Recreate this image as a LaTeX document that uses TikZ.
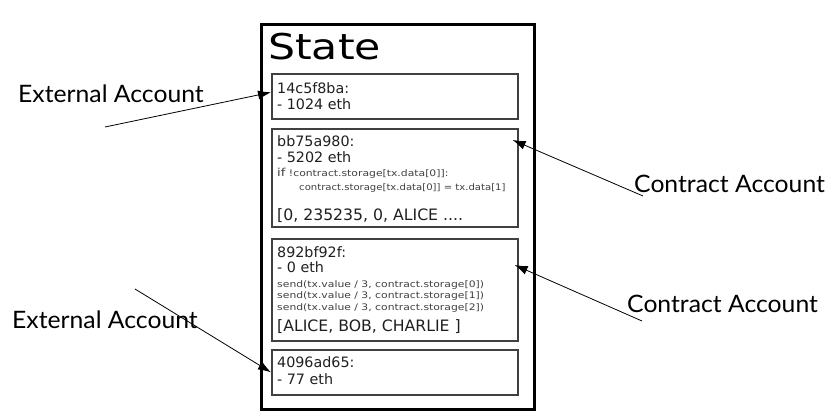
\documentclass[tikz,border=0pt]{standalone}
\usepackage{fontspec}
\setmainfont{DejaVu Sans}
\newfontfamily\labelfont{Lato}
\usetikzlibrary{arrows.meta}
\usetikzlibrary{positioning}
\usetikzlibrary{calc}

\newcommand{\idfont}{\fontsize{14.3}{16}\selectfont}
\newcommand{\datafont}{\fontsize{15.7}{18}\selectfont}
\newcommand{\codefont}{\fontsize{9}{10}\selectfont}

\tikzset{
	acct/.style={draw=black!75, line width=1.6pt, anchor=north west, inner sep=0pt, minimum width=246},
	txt/.style={anchor=base west, inner sep=0pt, text=black!88},
	code/.style={txt, text=black!75, font=\codefont},
	codewide/.style={code, xscale=1.2},
	tag/.style={anchor=base west, inner sep=0pt, font=\labelfont\fontsize{24}{27}\selectfont, xscale=1.03},
	pointer/.style={-{Latex[length=13pt, width=9pt]}, line width=0.8pt}
}

\begin{document}
\begin{tikzpicture}[x=1pt, y=1pt]
	\useasboundingbox (0, 0) rectangle (830, -411);

	% state container
	\node[draw=black, line width=2.6pt, anchor=north west, inner sep=0pt, minimum width=273, minimum height=385] (state) at (260, -23) {};
	\node[txt, text=black, font=\fontsize{35.5}{40}\selectfont, xscale=1.2] (title) at (268, -60) {State};

	% accounts
	\node[acct, minimum height=45] (acc1) at (271, -73) {};
	\node[acct, minimum height=98] (acc2) at (271, -128) {};
	\node[acct, minimum height=102] (acc3) at (271, -238) {};
	\node[acct, minimum height=45] (acc4) at (271, -349) {};

	\node[txt, font=\idfont] (id1) at ($(acc1.north west)+(6, -20.5)$) {14c5f8ba:};
	\node[txt, font=\idfont] (bal1) at ($(acc1.north west)+(6, -37)$) {- 1024 eth};

	\node[txt, font=\idfont] (id2) at ($(acc2.north west)+(6, -18.5)$) {bb75a980:};
	\node[txt, font=\idfont] (bal2) at ($(acc2.north west)+(6, -35)$) {- 5202 eth};
	\node[codewide] (cond2) at ($(acc2.north west)+(6, -49)$) {{\fontsize{11}{12}\selectfont if} !contract.storage[tx.data[0]]:};
	\node[code, xscale=1.12] (stmt2) at ($(acc2.north west)+(28, -63)$) {contract.storage[tx.data[0]] = tx.data[1]};
	\node[txt, font=\datafont] (mem2) at ($(acc2.north west)+(6, -92.5)$) {[0, 235235, 0, ALICE ....};

	\node[txt, font=\idfont] (id3) at ($(acc3.north west)+(6, -19.7)$) {892bf92f:};
	\node[txt, font=\idfont] (bal3) at ($(acc3.north west)+(6, -34.3)$) {- 0 eth};
	\node[codewide] (send0) at ($(acc3.north west)+(6, -49.3)$) {send(tx.value / 3, contract.storage[0])};
	\node[codewide] (send1) at ($(acc3.north west)+(6, -61)$) {send(tx.value / 3, contract.storage[1])};
	\node[codewide] (send2) at ($(acc3.north west)+(6, -72.5)$) {send(tx.value / 3, contract.storage[2])};
	\node[txt, font=\datafont] (mem3) at ($(acc3.north west)+(6, -93.7)$) {[ALICE, BOB, CHARLIE ]};

	\node[txt, font=\idfont] (id4) at ($(acc4.north west)+(6, -19)$) {4096ad65:};
	\node[txt, font=\idfont] (bal4) at ($(acc4.north west)+(6, -36)$) {- 77 eth};

	% labels
	\node[tag] (ext1) at (18, -103) {External Account};
	\node[tag] (ext2) at (12, -329) {External Account};
	\node[tag] (con1) at (634, -193) {Contract Account};
	\node[tag] (con2) at (627, -313) {Contract Account};

	\coordinate (ext1tail) at (105, -127);
	\coordinate (ext2tail) at (135, -289);
	\coordinate (con1tail) at (643, -196);
	\coordinate (con2tail) at (642, -321);

	\draw[pointer] (ext1tail) -- ([yshift=4]acc1.west);
	\draw[pointer] (ext2tail) -- (acc4.west);
	\draw[pointer] (con1tail) -- ([shift={(-6, -12)}]acc2.north east);
	\draw[pointer] (con2tail) -- ([shift={(-4, -27)}]acc3.north east);
\end{tikzpicture}
\end{document}
